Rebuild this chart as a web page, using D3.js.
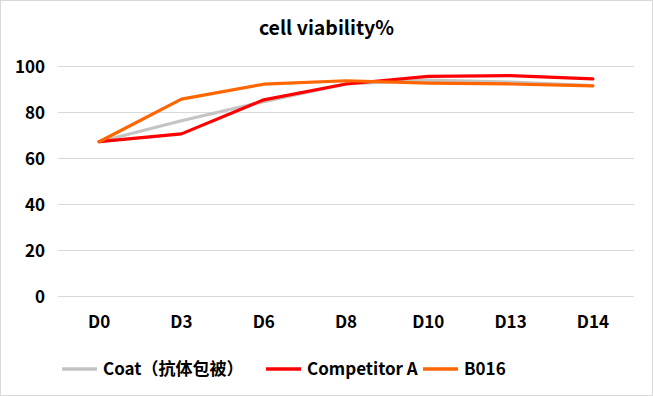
<!DOCTYPE html>
<html>
<head>
<meta charset="utf-8">
<script src="https://cdn.jsdelivr.net/npm/d3@7"></script>
<style>
  body { margin: 0; background: #fff; }
  text { font-family: "Noto Sans CJK SC", "Open Sans", sans-serif; font-weight: bold; fill: #000; }
</style>
</head>
<body>
<script>
var days = ['D0', 'D3', 'D6', 'D8', 'D10', 'D13', 'D14'];
var coat = [67.3, 76.4, 84.7, 92.4, 94.1, 93.2, 91.7];
var competitorA = [67.3, 70.7, 85.5, 92.4, 95.7, 96.0, 94.6];
var b016 = [67.3, 85.8, 92.3, 93.8, 92.8, 92.4, 91.6];
var yTicks = [0, 20, 40, 60, 80, 100];

var series = [
  { name: 'Coat（抗体包被）', values: coat, color: '#C4C4C4' },
  { name: 'Competitor A', values: competitorA, color: '#FF0000' },
  { name: 'B016', values: b016, color: '#FF6600' }
];

var width = 653, height = 396;
var svg = d3.select('body').append('svg')
    .attr('width', width)
    .attr('height', height);

svg.append('rect')
    .attr('x', 0.5).attr('y', 0.5)
    .attr('width', width - 1).attr('height', height - 1)
    .attr('fill', '#fff').attr('stroke', '#d9d9d9');

var x = d3.scaleBand().domain(days).range([58, 634]);
var y = d3.scaleLinear().domain([0, 100]).range([296.5, 66.5]);

// gridlines
svg.append('g').selectAll('line')
    .data(yTicks)
    .enter().append('line')
    .attr('x1', 58).attr('x2', 634)
    .attr('y1', function(d){ return y(d); })
    .attr('y2', function(d){ return y(d); })
    .attr('stroke', '#d9d9d9').attr('stroke-width', 1);

// y axis labels
var yAxis = svg.append('g')
    .attr('transform', 'translate(45,1)')
    .call(d3.axisLeft(y).tickValues(yTicks).tickSize(0).tickPadding(0));
yAxis.select('.domain').remove();
yAxis.selectAll('text').style('font-size', '17px').attr('fill', '#000');

// x axis labels
var xAxis = svg.append('g')
    .attr('transform', 'translate(0,316)')
    .call(d3.axisBottom(x).tickSize(0).tickPadding(0));
xAxis.select('.domain').remove();
xAxis.selectAll('text').style('font-size', '17px').attr('fill', '#000');

// title
svg.append('text')
    .attr('x', 326.5).attr('y', 35)
    .attr('text-anchor', 'middle')
    .style('font-size', '19.5px')
    .text('cell viability%');

var line = d3.line()
    .x(function(d, i){ return x(days[i]) + x.bandwidth() / 2; })
    .y(function(d){ return y(d); });

svg.append('g').selectAll('path')
    .data(series)
    .enter().append('path')
    .attr('d', function(d){ return line(d.values); })
    .attr('fill', 'none')
    .attr('stroke', function(d){ return d.color; })
    .attr('stroke-width', 3.2)
    .attr('stroke-linejoin', 'round')
    .attr('stroke-linecap', 'round');

// legend
var legendX = [62, 266, 423];
var legend = svg.append('g').selectAll('g')
    .data(series)
    .enter().append('g')
    .attr('transform', function(d, i){ return 'translate(' + legendX[i] + ',369)'; });
legend.append('line')
    .attr('x1', 0).attr('x2', 35)
    .attr('stroke', function(d){ return d.color; })
    .attr('stroke-width', 3.5);
legend.append('text')
    .attr('x', 41).attr('dy', '0.35em')
    .style('font-size', '17px')
    .text(function(d){ return d.name; });
</script>
</body>
</html>
